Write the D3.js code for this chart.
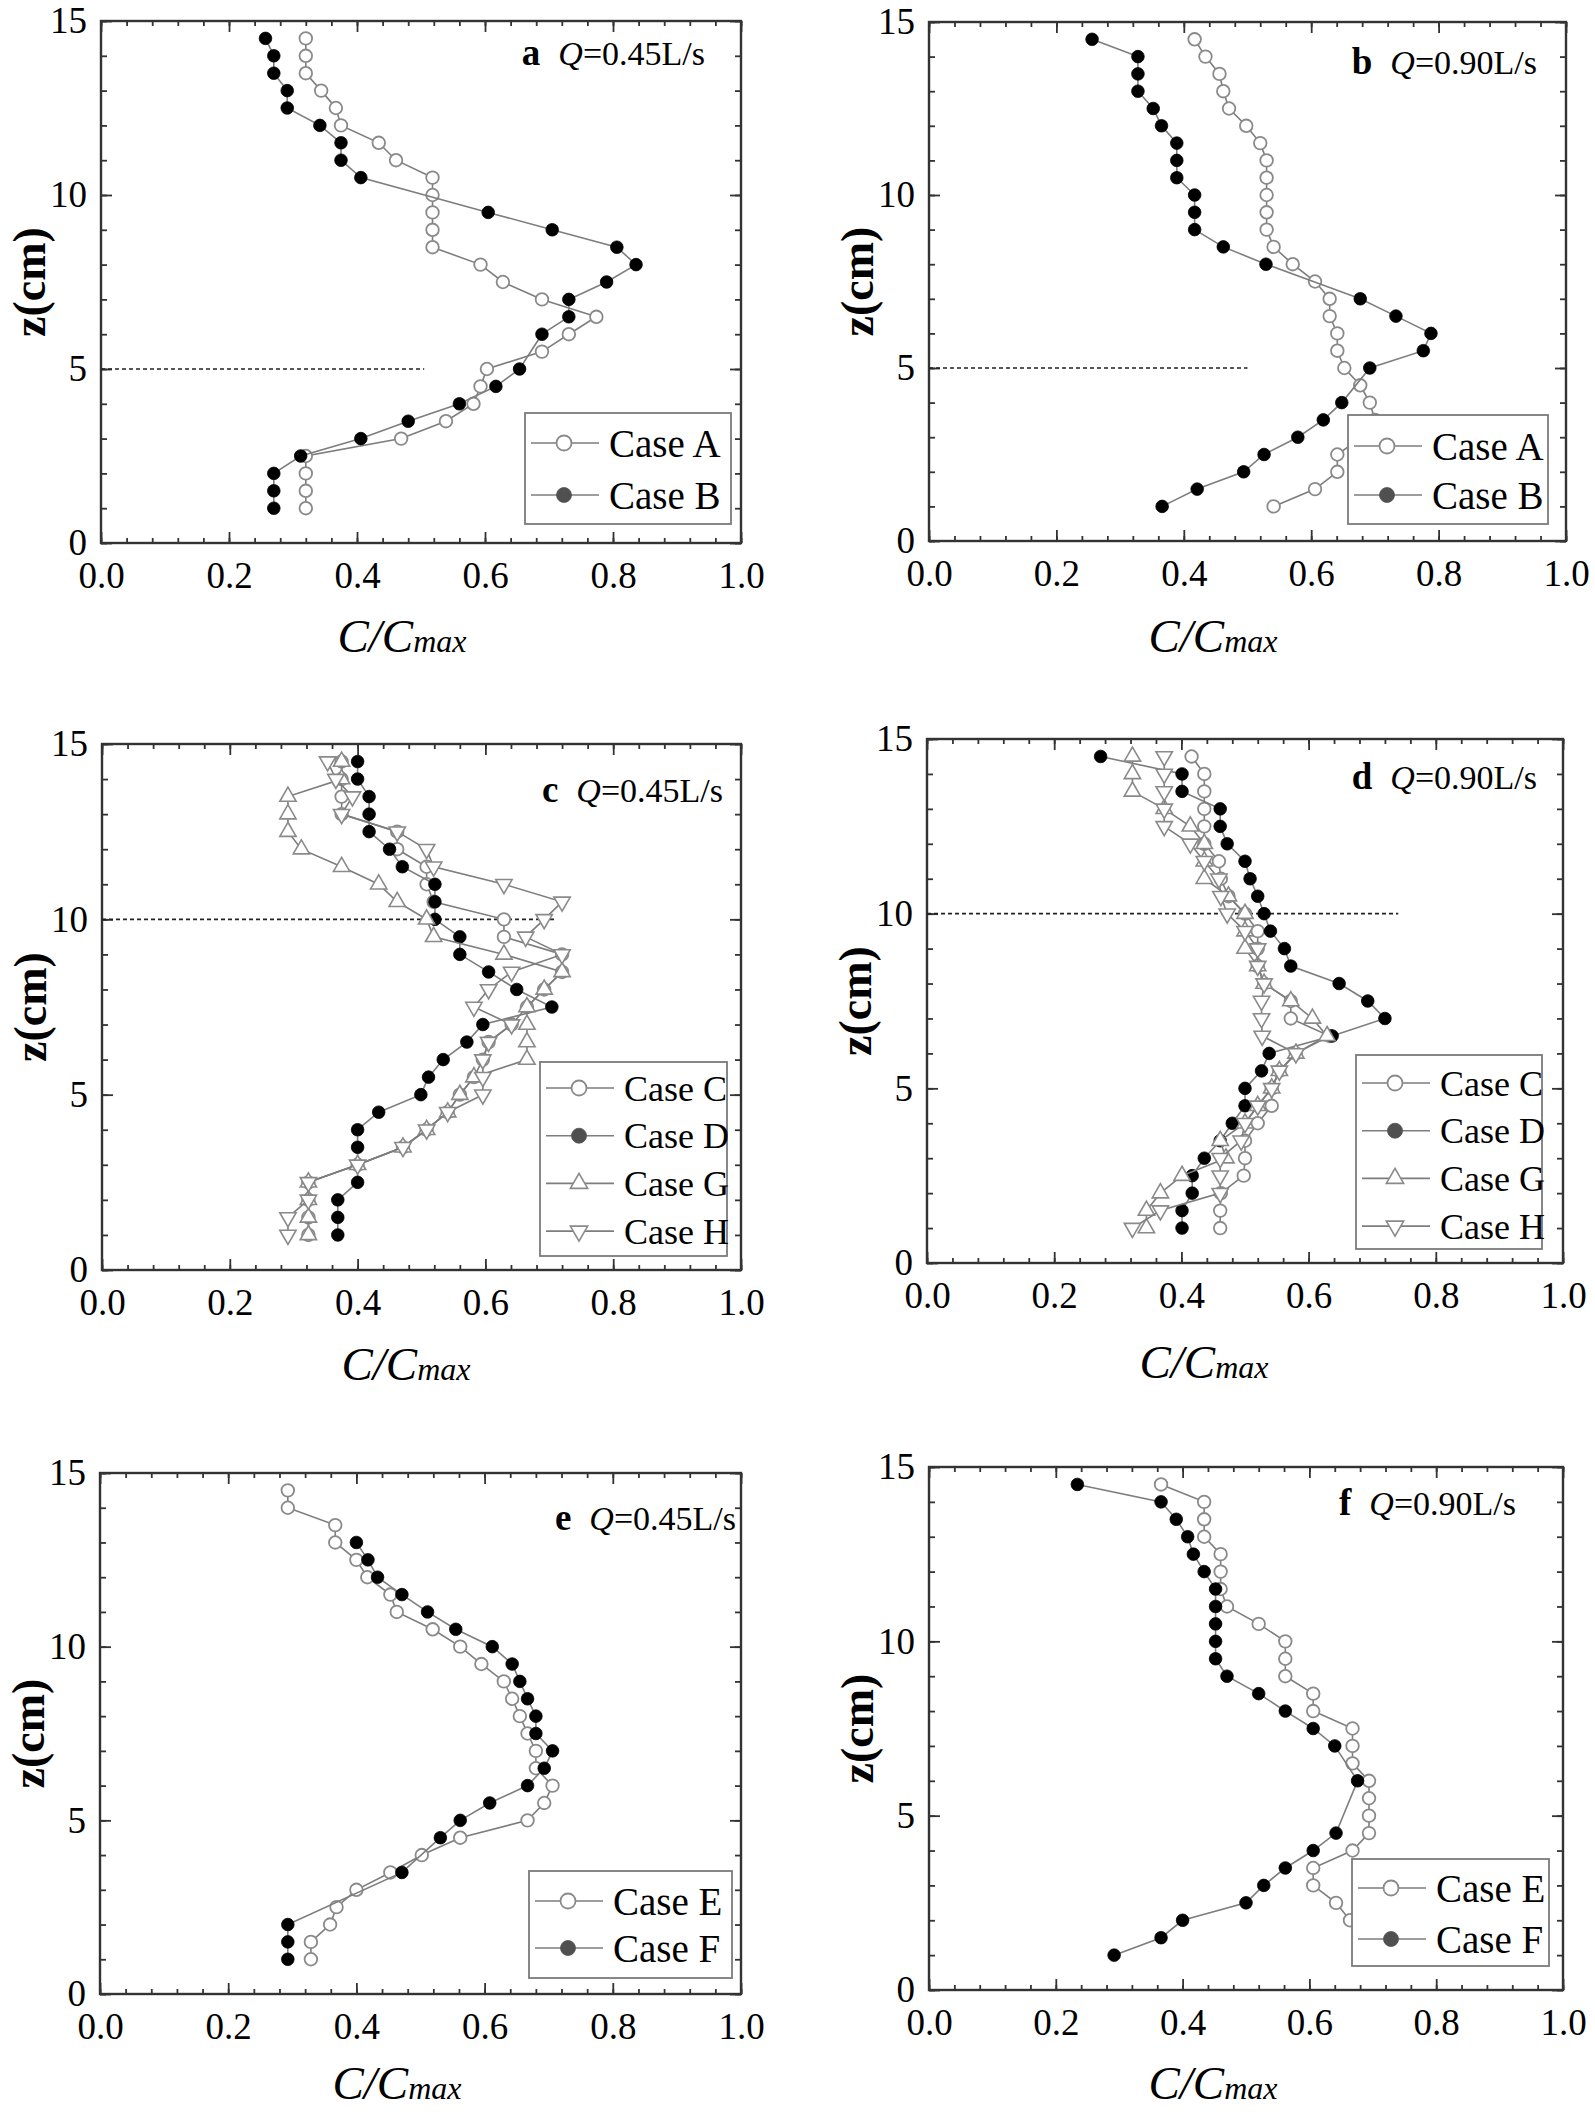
<!DOCTYPE html>
<html><head><meta charset="utf-8">
<script src="https://cdn.jsdelivr.net/npm/d3@7"></script>
<style>body{margin:0;background:#fff}svg{display:block}</style>
</head><body>
<svg id="chart" width="1595" height="2112"></svg>
<script>
// ---------- tick values ----------
const xTicks = [0, 0.2, 0.4, 0.6, 0.8, 1.0];
const xMinorTicks = [0,0.04,0.08,0.12,0.16,0.2,0.24,0.28,0.32,0.36,0.4,0.44,0.48,0.52,0.56,0.6,0.64,0.68,0.72,0.76,0.8,0.84,0.88,0.92,0.96,1.0];
const yTicks = [0, 5, 10, 15];
const yMinorTicks = [0,1,2,3,4,5,6,7,8,9,10,11,12,13,14,15];

// ---------- data: [C/Cmax, z(cm)] ----------
const a_caseA = [[0.32,14.5],[0.32,14],[0.32,13.5],[0.344,13],[0.367,12.5],[0.375,12],[0.434,11.5],[0.461,11],[0.518,10.5],[0.518,10],[0.518,9.5],[0.518,9],[0.518,8.5],[0.593,8],[0.628,7.5],[0.689,7],[0.774,6.5],[0.731,6],[0.689,5.5],[0.603,5],[0.593,4.5],[0.582,4],[0.539,3.5],[0.469,3],[0.32,2.5],[0.32,2],[0.32,1.5],[0.32,1]];
const a_caseB = [[0.257,14.5],[0.27,14],[0.27,13.5],[0.291,13],[0.291,12.5],[0.342,12],[0.375,11.5],[0.375,11],[0.406,10.5],[0.605,9.5],[0.705,9],[0.806,8.5],[0.836,8],[0.79,7.5],[0.731,7],[0.731,6.5],[0.689,6],[0.654,5],[0.617,4.5],[0.56,4],[0.48,3.5],[0.406,3],[0.312,2.5],[0.27,2],[0.27,1.5],[0.27,1]];

const b_caseA = [[0.417,14.5],[0.434,14],[0.456,13.5],[0.462,13],[0.471,12.5],[0.498,12],[0.52,11.5],[0.53,11],[0.53,10.5],[0.53,10],[0.53,9.5],[0.53,9],[0.541,8.5],[0.571,8],[0.606,7.5],[0.629,7],[0.629,6.5],[0.641,6],[0.641,5.5],[0.652,5],[0.677,4.5],[0.692,4],[0.70,3.5],[0.68,3],[0.641,2.5],[0.641,2],[0.606,1.5],[0.541,1]];
const b_caseB = [[0.256,14.5],[0.328,14],[0.328,13.5],[0.328,13],[0.352,12.5],[0.365,12],[0.389,11.5],[0.389,11],[0.389,10.5],[0.417,10],[0.417,9.5],[0.417,9],[0.462,8.5],[0.529,8],[0.677,7],[0.733,6.5],[0.788,6],[0.776,5.5],[0.692,5],[0.648,4],[0.619,3.5],[0.579,3],[0.526,2.5],[0.494,2],[0.421,1.5],[0.366,1]];

const c_caseC = [[0.375,14.5],[0.375,14],[0.375,13.5],[0.375,13],[0.462,12.5],[0.462,12],[0.508,11.5],[0.508,11],[0.519,10.5],[0.629,10],[0.629,9.5],[0.72,9],[0.72,8.5],[0.692,8],[0.665,7.5],[0.641,7],[0.605,6.5],[0.596,6],[0.582,5.5],[0.56,5],[0.541,4.5],[0.508,4],[0.471,3.5],[0.40,3],[0.323,2.5],[0.323,2],[0.323,1.5],[0.323,1]];
const c_caseD = [[0.40,14.5],[0.40,14],[0.418,13.5],[0.418,13],[0.418,12.5],[0.45,12],[0.47,11.5],[0.521,11],[0.521,10.5],[0.521,10],[0.56,9.5],[0.56,9],[0.605,8.5],[0.649,8],[0.704,7.5],[0.596,7],[0.571,6.5],[0.534,6],[0.511,5.5],[0.499,5],[0.433,4.5],[0.40,4],[0.40,3.5],[0.40,2.5],[0.369,2],[0.369,1.5],[0.369,1]];
const c_caseG = [[0.375,14.5],[0.375,14],[0.291,13.5],[0.291,13],[0.291,12.5],[0.312,12],[0.375,11.5],[0.433,11],[0.462,10.5],[0.508,10],[0.519,9.5],[0.629,9],[0.72,8.5],[0.692,8],[0.665,7.5],[0.665,7],[0.665,6.5],[0.665,6],[0.582,5.5],[0.56,5],[0.541,4.5],[0.508,4],[0.471,3.5],[0.40,3],[0.323,2.5],[0.323,2],[0.323,1.5],[0.323,1]];
const c_caseH = [[0.353,14.5],[0.366,14],[0.392,13.5],[0.375,13],[0.462,12.5],[0.508,12],[0.519,11.5],[0.629,11],[0.72,10.5],[0.692,10],[0.663,9.5],[0.72,9],[0.641,8.5],[0.605,8],[0.582,7.5],[0.641,7],[0.605,6.5],[0.596,6],[0.596,5.5],[0.596,5],[0.541,4.5],[0.508,4],[0.471,3.5],[0.40,3],[0.323,2.5],[0.323,2],[0.291,1.5],[0.291,1]];

const d_caseC = [[0.416,14.5],[0.436,14],[0.436,13.5],[0.436,13],[0.436,12.5],[0.436,12],[0.459,11.5],[0.462,11],[0.474,10.5],[0.50,10],[0.52,9.5],[0.52,9],[0.52,8.5],[0.53,8],[0.572,7.5],[0.572,7],[0.633,6.5],[0.58,6],[0.554,5.5],[0.542,5],[0.542,4.5],[0.52,4],[0.50,3.5],[0.50,3],[0.498,2.5],[0.462,2],[0.461,1.5],[0.461,1]];
const d_caseD = [[0.273,14.5],[0.401,14],[0.401,13.5],[0.461,13],[0.461,12.5],[0.472,12],[0.50,11.5],[0.508,11],[0.52,10.5],[0.53,10],[0.54,9.5],[0.562,9],[0.572,8.5],[0.648,8],[0.693,7.5],[0.72,7],[0.637,6.5],[0.538,6],[0.526,5.5],[0.50,5],[0.50,4.5],[0.48,4],[0.461,3.5],[0.436,3],[0.417,2.5],[0.417,2],[0.401,1.5],[0.401,1]];
const d_caseG = [[0.323,14.5],[0.323,14],[0.323,13.5],[0.373,13],[0.414,12.5],[0.436,12],[0.436,11.5],[0.436,11],[0.474,10.5],[0.50,10],[0.50,9.5],[0.50,9],[0.52,8.5],[0.53,8],[0.572,7.5],[0.606,7],[0.629,6.5],[0.58,6],[0.554,5.5],[0.542,5],[0.52,4.5],[0.50,4],[0.461,3.5],[0.47,3],[0.401,2.5],[0.367,2],[0.345,1.5],[0.345,1]];
const d_caseH = [[0.373,14.5],[0.373,14],[0.373,13.5],[0.373,13],[0.373,12.5],[0.414,12],[0.436,11.5],[0.459,11],[0.462,10.5],[0.472,10],[0.50,9.5],[0.52,9],[0.52,8.5],[0.53,8],[0.526,7.5],[0.526,7],[0.527,6.5],[0.58,6],[0.554,5.5],[0.542,5],[0.52,4.5],[0.50,4],[0.494,3.5],[0.461,3],[0.461,2.5],[0.461,2],[0.367,1.5],[0.323,1]];

const e_caseE = [[0.293,14.5],[0.293,14],[0.367,13.5],[0.367,13],[0.40,12.5],[0.417,12],[0.453,11.5],[0.463,11],[0.519,10.5],[0.562,10],[0.595,9.5],[0.63,9],[0.643,8.5],[0.655,8],[0.667,7.5],[0.68,7],[0.68,6.5],[0.706,6],[0.693,5.5],[0.667,5],[0.562,4.5],[0.502,4],[0.453,3.5],[0.40,3],[0.369,2.5],[0.359,2],[0.329,1.5],[0.329,1]];
const e_caseF = [[0.40,13],[0.418,12.5],[0.433,12],[0.471,11.5],[0.511,11],[0.555,10.5],[0.612,10],[0.643,9.5],[0.655,9],[0.667,8.5],[0.68,8],[0.68,7.5],[0.706,7],[0.693,6.5],[0.667,6],[0.608,5.5],[0.562,5],[0.531,4.5],[0.471,3.5],[0.293,2],[0.293,1.5],[0.293,1]];

const f_caseE = [[0.366,14.5],[0.434,14],[0.434,13.5],[0.434,13],[0.46,12.5],[0.46,12],[0.46,11.5],[0.47,11],[0.52,10.5],[0.562,10],[0.562,9.5],[0.562,9],[0.606,8.5],[0.606,8],[0.668,7.5],[0.668,7],[0.668,6.5],[0.694,6],[0.694,5.5],[0.694,5],[0.694,4.5],[0.668,4],[0.606,3.5],[0.606,3],[0.642,2.5],[0.664,2]];
const f_caseF = [[0.234,14.5],[0.366,14],[0.39,13.5],[0.408,13],[0.417,12.5],[0.434,12],[0.452,11.5],[0.452,11],[0.452,10.5],[0.452,10],[0.452,9.5],[0.47,9],[0.52,8.5],[0.562,8],[0.606,7.5],[0.64,7],[0.676,6],[0.642,4.5],[0.606,4],[0.562,3.5],[0.528,3],[0.50,2.5],[0.40,2],[0.366,1.5],[0.292,1]];

const panelLetters = ['a','b','c','d','e','f'];
const flowRates = ['=0.45L/s','=0.90L/s','=0.45L/s','=0.90L/s','=0.45L/s','=0.90L/s'];

// ---------- layout (positions only) ----------
const panels = [
  {letter:panelLetters[0], flow:flowRates[0], l:101, r:741, t:21, b:543,
   series:[{name:'Case A', data:a_caseA, shape:'circle', filled:false},{name:'Case B', data:a_caseB, shape:'circle', filled:true}],
   ref:{z:5, x1:0.505}, title:{x:705, y:65}, xlab:{x:402, y:652},
   legend:{x:525, y:413, w:206, h:111, first:30, step:52, fs:39}},
  {letter:panelLetters[1], flow:flowRates[1], l:929, r:1566, t:22, b:541,
   series:[{name:'Case A', data:b_caseA, shape:'circle', filled:false},{name:'Case B', data:b_caseB, shape:'circle', filled:true}],
   ref:{z:5, x1:0.5}, title:{x:1537, y:74}, xlab:{x:1213, y:652},
   legend:{x:1348, y:415, w:200, h:109, first:31, step:49, fs:39}},
  {letter:panelLetters[2], flow:flowRates[2], l:102, r:741, t:744, b:1270,
   series:[{name:'Case C', data:c_caseC, shape:'circle', filled:false},{name:'Case D', data:c_caseD, shape:'circle', filled:true},
           {name:'Case G', data:c_caseG, shape:'up', filled:false},{name:'Case H', data:c_caseH, shape:'down', filled:false}],
   ref:{z:10, x1:0.712}, title:{x:723, y:802}, xlab:{x:406, y:1380},
   legend:{x:540, y:1062, w:187, h:194, first:26, step:47.7, fs:36}},
  {letter:panelLetters[3], flow:flowRates[3], l:927, r:1563, t:739, b:1263,
   series:[{name:'Case C', data:d_caseC, shape:'circle', filled:false},{name:'Case D', data:d_caseD, shape:'circle', filled:true},
           {name:'Case G', data:d_caseG, shape:'up', filled:false},{name:'Case H', data:d_caseH, shape:'down', filled:false}],
   ref:{z:10, x1:0.741}, title:{x:1537, y:789}, xlab:{x:1204, y:1378},
   legend:{x:1356, y:1055, w:186, h:194, first:28, step:47.7, fs:36}},
  {letter:panelLetters[4], flow:flowRates[4], l:100, r:741, t:1473, b:1994,
   series:[{name:'Case E', data:e_caseE, shape:'circle', filled:false},{name:'Case F', data:e_caseF, shape:'circle', filled:true}],
   ref:null, title:{x:736, y:1530}, xlab:{x:397, y:2099},
   legend:{x:529, y:1871, w:203, h:107, first:30, step:47, fs:39}},
  {letter:panelLetters[5], flow:flowRates[5], l:929, r:1563, t:1467, b:1990,
   series:[{name:'Case E', data:f_caseE, shape:'circle', filled:false},{name:'Case F', data:f_caseF, shape:'circle', filled:true}],
   ref:null, title:{x:1516, y:1515}, xlab:{x:1213, y:2099},
   legend:{x:1352, y:1859, w:197, h:107, first:29, step:51, fs:39}}
];

const svg = d3.select('#chart');
svg.append('rect').attr('width',1595).attr('height',2112).attr('fill','#fff');
const SERIF = '"Liberation Serif","Times New Roman",serif';
const LINE = '#7d7d7d', OPEN = '#8a8a8a', AXIS = '#333';

function marker(sel, shape, filled, size, legend) {
  if (shape === 'circle') {
    sel.append('circle').attr('r', size)
      .attr('fill', filled ? (legend ? '#505050' : '#000') : '#fff')
      .attr('stroke', filled ? (legend ? '#505050' : '#000') : OPEN)
      .attr('stroke-width', filled ? 0.8 : 1.8);
  } else {
    const area = legend ? 130 : 115;
    sel.append('path').attr('d', d3.symbol().type(d3.symbolTriangle).size(area)())
      .attr('transform', shape === 'down' ? 'rotate(180)' : null)
      .attr('fill', '#fff').attr('stroke', OPEN).attr('stroke-width', 1.6);
  }
}

panels.forEach(p => {
  const g = svg.append('g');
  const x = d3.scaleLinear().domain([0, 1]).range([p.l, p.r]);
  const y = d3.scaleLinear().domain([0, 15]).range([p.b, p.t]);

  const styleAxis = sel => {
    sel.attr('font-family', SERIF);
    sel.select('.domain').remove();
    sel.selectAll('line').attr('stroke', AXIS).attr('stroke-width', 1.8);
    sel.selectAll('text').attr('font-family', SERIF).attr('fill', '#000');
  };
  // minor ticks
  g.append('g').attr('transform', `translate(0,${p.b})`)
    .call(d3.axisBottom(x).tickValues(xMinorTicks).tickSize(-5).tickFormat('')).call(styleAxis);
  g.append('g').attr('transform', `translate(0,${p.t})`)
    .call(d3.axisTop(x).tickValues(xMinorTicks).tickSize(-5).tickFormat('')).call(styleAxis);
  g.append('g').attr('transform', `translate(${p.l},0)`)
    .call(d3.axisLeft(y).tickValues(yMinorTicks).tickSize(-6).tickFormat('')).call(styleAxis);
  g.append('g').attr('transform', `translate(${p.r},0)`)
    .call(d3.axisRight(y).tickValues(yMinorTicks).tickSize(-6).tickFormat('')).call(styleAxis);
  // major ticks
  g.append('g').attr('transform', `translate(0,${p.b})`)
    .call(d3.axisBottom(x).tickValues(xTicks).tickSizeInner(-11).tickSizeOuter(0).tickPadding(19).tickFormat(d3.format('.1f')))
    .call(styleAxis).selectAll('text').attr('font-size', 37);
  g.append('g').attr('transform', `translate(0,${p.t})`)
    .call(d3.axisTop(x).tickValues(xTicks).tickSizeInner(-11).tickSizeOuter(0).tickFormat('')).call(styleAxis);
  g.append('g').attr('transform', `translate(${p.l},0)`)
    .call(d3.axisLeft(y).tickValues(yTicks).tickSizeInner(-11).tickSizeOuter(0).tickPadding(14).tickFormat(d3.format('d')))
    .call(styleAxis).selectAll('text').attr('font-size', 37);
  g.append('g').attr('transform', `translate(${p.r},0)`)
    .call(d3.axisRight(y).tickValues(yTicks).tickSizeInner(-11).tickSizeOuter(0).tickFormat('')).call(styleAxis);

  // frame
  g.append('rect').attr('x', p.l).attr('y', p.t).attr('width', p.r - p.l).attr('height', p.b - p.t)
    .attr('fill', 'none').attr('stroke', AXIS).attr('stroke-width', 2.4);

  // reference dashed line
  if (p.ref) {
    g.append('line').attr('x1', x(0)).attr('x2', x(p.ref.x1)).attr('y1', y(p.ref.z)).attr('y2', y(p.ref.z))
      .attr('stroke', '#222').attr('stroke-width', 1.6).attr('stroke-dasharray', '4,3');
  }

  // series
  const lineGen = d3.line().x(d => x(d[0])).y(d => y(d[1]));
  p.series.forEach(s => {
    g.append('path').attr('d', lineGen(s.data)).attr('fill', 'none')
      .attr('stroke', LINE).attr('stroke-width', 1.6);
    g.selectAll(null).data(s.data).enter().append('g')
      .attr('transform', d => `translate(${x(d[0])},${y(d[1])})`)
      .each(function () { marker(d3.select(this), s.shape, s.filled, 6.3, false); });
  });

  // legend
  const L = p.legend;
  const lg = g.append('g').attr('transform', `translate(${L.x},${L.y})`);
  lg.append('rect').attr('width', L.w).attr('height', L.h).attr('fill', '#fff')
    .attr('stroke', '#7a7a7a').attr('stroke-width', 1.8);
  p.series.forEach((s, i) => {
    const ey = L.first + i * L.step;
    const row = lg.append('g').attr('transform', `translate(0,${ey})`);
    row.append('line').attr('x1', 6).attr('x2', 74).attr('y1', 0).attr('y2', 0)
      .attr('stroke', LINE).attr('stroke-width', 1.6);
    const m = row.append('g').attr('transform', 'translate(39,0)');
    marker(m, s.shape, s.filled, 7.5, true);
    row.append('text').attr('x', 84).attr('y', 0).attr('dy', '0.35em')
      .attr('font-family', SERIF).attr('font-size', L.fs).attr('fill', '#000').text(s.name);
  });

  // panel title
  const tt = g.append('text').attr('x', p.title.x).attr('y', p.title.y).attr('text-anchor', 'end')
    .attr('font-family', SERIF).attr('font-size', 34).attr('fill', '#000');
  tt.append('tspan').attr('font-weight', 'bold').attr('font-size', 37).text(p.letter);
  tt.append('tspan').attr('dx', 18).attr('font-style', 'italic').text('Q');
  tt.append('tspan').text(p.flow);

  // axis titles
  g.append('text').attr('transform', `translate(${p.l - 72},${(p.t + p.b) / 2}) rotate(-90)`)
    .attr('text-anchor', 'middle').attr('dy', '0.35em')
    .attr('font-family', SERIF).attr('font-weight', 'bold').attr('font-size', 46).attr('fill', '#000')
    .text('z(cm)');
  const xl = g.append('text').attr('x', p.xlab.x).attr('y', p.xlab.y).attr('text-anchor', 'middle')
    .attr('font-family', SERIF).attr('font-style', 'italic').attr('fill', '#000');
  xl.append('tspan').attr('font-size', 47).text('C/C');
  xl.append('tspan').attr('font-size', 32).text('max');
});
</script>
</body></html>
